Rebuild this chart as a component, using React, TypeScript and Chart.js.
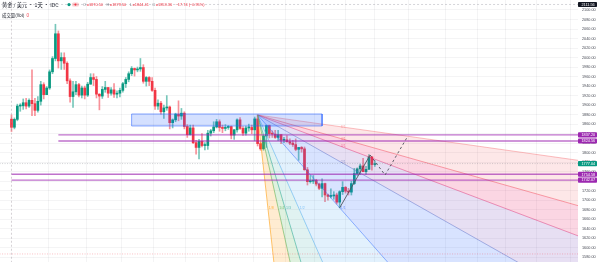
import React, { useEffect, useRef } from 'react';
import { Chart, registerables } from 'chart.js';

Chart.register(...registerables);

// ---- candle data (daily) ----
const opens = [
  1870.5, 1853.4, 1870, 1898, 1898.5, 1905, 1898, 1910, 1903, 1889,
  1908, 1943, 1922, 1936, 1970, 1998, 2050, 1993, 2000, 1988,
  1951, 1918, 1928, 1943, 1921, 1936, 1921, 1944, 1958, 1954,
  1923, 1919, 1933, 1937, 1925, 1932, 1923, 1925, 1931, 1945,
  1954, 1966, 1977, 1974, 1976, 1979, 1950, 1958, 1950, 1931,
  1898, 1904, 1886, 1894, 1896, 1863, 1869, 1881, 1877, 1883,
  1855, 1838, 1852, 1821, 1811, 1824, 1815, 1815, 1841, 1846,
  1854, 1865, 1853, 1851, 1853, 1855, 1837, 1848, 1869, 1851,
  1841, 1852, 1853, 1848, 1871, 1819, 1808, 1835, 1857, 1840,
  1839, 1832, 1838, 1826, 1827, 1823, 1820, 1817, 1807, 1811,
  1808, 1764, 1739, 1740, 1742, 1734, 1725, 1735, 1711, 1708,
  1709, 1711, 1696, 1718, 1727, 1719, 1717, 1735, 1756, 1766,
  1772, 1760, 1765, 1791, 1775,
];
const highs = [
  1879.5, 1873, 1902, 1903, 1913, 1914, 1913, 1974, 1914, 1918,
  1950, 1947, 1939, 1974, 2002, 2070, 2056, 2010, 2010, 1991,
  1955, 1950, 1950, 1946, 1940, 1940, 1948, 1966, 1966, 1960,
  1924, 1939, 1950, 1937, 1937, 1945, 1930, 1936, 1948, 1958,
  1970, 1981, 1978, 1980, 1998, 1985, 1960, 1960, 1958, 1936,
  1911, 1908, 1900, 1920, 1898, 1871, 1883, 1909, 1893, 1886,
  1859, 1858, 1858, 1826, 1828, 1840, 1821, 1847, 1849, 1865,
  1870, 1869, 1858, 1859, 1857, 1856, 1849, 1871, 1874, 1855,
  1856, 1860, 1858, 1875, 1879, 1822, 1836, 1858, 1858, 1846,
  1847, 1847, 1838, 1832, 1836, 1829, 1826, 1829, 1811, 1813,
  1812, 1769, 1752, 1752, 1744, 1736, 1745, 1736, 1713, 1724,
  1718, 1715, 1720, 1739, 1729, 1725, 1740, 1767, 1768, 1776,
  1788, 1771, 1796, 1792, 1783,
];
const lows = [
  1844.41, 1850, 1867, 1887, 1891, 1892, 1895, 1878, 1878, 1885,
  1900, 1913, 1922, 1933, 1966, 1993, 1978, 1975, 1975, 1945,
  1906, 1895, 1922, 1917, 1915, 1913, 1918, 1944, 1941, 1915,
  1890, 1914, 1927, 1916, 1921, 1916, 1915, 1917, 1927, 1937,
  1949, 1962, 1961, 1970, 1971, 1946, 1940, 1941, 1929, 1891,
  1891, 1881, 1872, 1889, 1850, 1852, 1865, 1867, 1870, 1850,
  1832, 1837, 1819, 1797, 1787, 1812, 1806, 1807, 1835, 1842,
  1852, 1845, 1842, 1846, 1849, 1829, 1828, 1843, 1849, 1836,
  1837, 1845, 1840, 1825, 1814, 1805, 1805, 1811, 1831, 1832,
  1830, 1825, 1819, 1821, 1822, 1817, 1813, 1804, 1784, 1801,
  1763, 1732, 1736, 1735, 1730, 1722, 1707, 1697, 1700, 1705,
  1702, 1692, 1684, 1712, 1715, 1711, 1711, 1733, 1752, 1754,
  1760, 1754, 1764, 1763, 1771,
];
const closes = [
  1853.36, 1870, 1898, 1898.5, 1905, 1898, 1910, 1903, 1889, 1908,
  1943, 1922, 1936, 1970, 1998, 2050, 1993, 2000, 1988, 1951,
  1918, 1928, 1943, 1921, 1936, 1921, 1944, 1958, 1954, 1923,
  1919, 1933, 1937, 1925, 1932, 1923, 1925, 1931, 1945, 1954,
  1966, 1977, 1974, 1976, 1979, 1950, 1958, 1950, 1931, 1898,
  1904, 1886, 1894, 1896, 1863, 1869, 1881, 1877, 1883, 1855,
  1838, 1852, 1821, 1811, 1824, 1815, 1815, 1841, 1846, 1854,
  1865, 1853, 1851, 1853, 1855, 1837, 1848, 1869, 1851, 1841,
  1852, 1853, 1848, 1871, 1819, 1808, 1835, 1857, 1840, 1839,
  1832, 1838, 1826, 1827, 1823, 1820, 1817, 1807, 1811, 1808,
  1764, 1739, 1740, 1742, 1734, 1725, 1735, 1711, 1708, 1709,
  1711, 1696, 1718, 1727, 1719, 1717, 1735, 1756, 1766, 1772,
  1760, 1765, 1791, 1775, 1777.04,
];

// ---- axes ----
const yTickValues = [
  1580, 1600, 1620, 1640, 1660, 1680, 1700, 1720, 1740, 1760, 1780, 1800, 1820, 1840,
  1860, 1880, 1900, 1920, 1940, 1960, 1980, 2000, 2020, 2040, 2060, 2080, 2100,
];
const xGridIdx = [19, 32, 43, 54, 65, 76, 89, 98, 109, 119, 129, 142, 154, 164, 173.5, 185];
const Y_MIN = 1570.1;
const Y_MAX = 2121.0;
const X_MIN = -3.92;
const X_MAX = 193.34;

// ---- drawings ----
const boxIdx = [41, 106];
const boxPrice = [1856.1, 1881.3];

const fanAnchorIdx = [84, 112];
const fanAnchorPrice = [1879.2, 1684.0];
const fanLabels = ['1/8', '1/4', '1/3', '1/2', '1/1', '2/1', '3/1', '4/1', '8/1'];
const fanRatios = [8, 4, 3, 2, 1, 1 / 2, 1 / 3, 1 / 4, 1 / 8];
const fanLineColors = [
  'rgba(255,152,0,0.7)',
  'rgba(76,175,80,0.7)',
  'rgba(38,166,154,0.7)',
  'rgba(100,181,246,0.75)',
  'rgba(41,98,255,0.6)',
  'rgba(92,107,192,0.6)',
  'rgba(233,30,99,0.55)',
  'rgba(242,54,69,0.55)',
  'rgba(247,124,128,0.6)',
];
const fanFillColors = [
  'rgba(255,152,0,0.18)',
  'rgba(76,175,80,0.18)',
  'rgba(38,166,154,0.14)',
  'rgba(33,150,243,0.13)',
  'rgba(41,98,255,0.18)',
  'rgba(103,58,183,0.16)',
  'rgba(233,30,99,0.18)',
  'rgba(242,54,69,0.12)',
];

const levelPrices = [1837.2, 1824.56, 1754.58, 1742.07];
const levelStartIdx = [16, 16, 0, 0];

const trendIdx = [112, 122.4];
const trendPrice = [1684, 1795];
const projIdx = [122.4, 127.5, 134.9];
const projPrice = [1795, 1753, 1831];

const crossIdx = 0;
const crossPrice = 2111.56;
const dottedPrice = 1587;

const headerTitle = '黄金 / 美元 · 1天 · IDC';
const headerLabels = ['O', 'H', 'L', 'C'];
const headerValues = ['1870.50', '1879.50', '1844.41', '1853.36'];
const headerChange = '−17.74 (−0.95%)';
const volTitle = '成交量(Vol)';

const UP = '#089981';
const DOWN = '#f23645';

export default function App() {
  const ref = useRef<HTMLCanvasElement | null>(null);

  useEffect(() => {
    const canvas = ref.current;
    if (!canvas) return;
    Chart.defaults.font.family = '"Liberation Sans", Arial, sans-serif';

    const n = opens.length;
    const isUp = opens.map((o, i) => closes[i] >= o);

    const datasets: any[] = [];

    // fan lines
    const slope1 = (fanAnchorPrice[1] - fanAnchorPrice[0]) / (fanAnchorIdx[1] - fanAnchorIdx[0]);
    const fanStart = datasets.length;
    const endIdx = X_MAX + 5;
    fanRatios.forEach((r, k) => {
      datasets.push({
        type: 'line',
        data: [
          { x: fanAnchorIdx[0], y: fanAnchorPrice[0] },
          { x: endIdx, y: fanAnchorPrice[0] + slope1 * r * (endIdx - fanAnchorIdx[0]) },
        ],
        borderColor: fanLineColors[k],
        borderWidth: 0.8,
        backgroundColor: k < fanRatios.length - 1 ? fanFillColors[k] : 'transparent',
        fill: k < fanRatios.length - 1 ? fanStart + k + 1 : false,
        pointRadius: 0,
        order: 10,
      });
    });

    // box
    datasets.push({
      type: 'line',
      data: [
        { x: boxIdx[0], y: boxPrice[1] },
        { x: boxIdx[1], y: boxPrice[1] },
        { x: boxIdx[1], y: boxPrice[0] },
        { x: boxIdx[0], y: boxPrice[0] },
        { x: boxIdx[0], y: boxPrice[1] },
      ],
      borderColor: 'rgba(41,98,255,0.55)',
      borderWidth: 1,
      backgroundColor: 'rgba(41,98,255,0.2)',
      fill: 'shape',
      pointRadius: 0,
      order: 9,
    });

    // horizontal levels
    levelPrices.forEach((p, k) => {
      datasets.push({
        type: 'line',
        data: [
          { x: levelStartIdx[k], y: p },
          { x: X_MAX + 2, y: p },
        ],
        borderColor: 'rgba(156,39,176,0.65)',
        borderWidth: 1.3,
        pointRadius: 0,
        fill: false,
        order: 5,
      });
    });

    // current price line
    datasets.push({
      type: 'line',
      data: [
        { x: X_MIN - 1, y: closes[n - 1] },
        { x: X_MAX + 1, y: closes[n - 1] },
      ],
      borderColor: 'rgba(120,123,134,0.35)',
      borderWidth: 1,
      borderDash: [1, 1.5],
      pointRadius: 0,
      fill: false,
      order: 6,
    });

    // bottom dotted line
    datasets.push({
      type: 'line',
      data: [
        { x: X_MIN - 1, y: dottedPrice },
        { x: X_MAX + 1, y: dottedPrice },
      ],
      borderColor: 'rgba(242,54,69,0.4)',
      borderWidth: 0.8,
      borderDash: [1, 1.5],
      pointRadius: 0,
      fill: false,
      order: 6,
    });

    // trend line
    datasets.push({
      type: 'line',
      data: trendIdx.map((x, i) => ({ x, y: trendPrice[i] })),
      borderColor: '#50535e',
      borderWidth: 0.9,
      pointRadius: 0,
      fill: false,
      order: 4,
    });
    // projection (dashed)
    datasets.push({
      type: 'line',
      data: projIdx.map((x, i) => ({ x, y: projPrice[i] })),
      borderColor: '#50535e',
      borderWidth: 0.9,
      borderDash: [2.5, 2.5],
      pointRadius: 0,
      fill: false,
      order: 4,
    });

    // crosshair
    datasets.push({
      type: 'line',
      data: [
        { x: crossIdx, y: Y_MIN - 10 },
        { x: crossIdx, y: Y_MAX + 10 },
      ],
      borderColor: 'rgba(150,140,150,0.5)',
      borderWidth: 0.8,
      borderDash: [2, 2],
      pointRadius: 0,
      fill: false,
      order: 3,
    });
    datasets.push({
      type: 'line',
      data: [
        { x: X_MIN - 1, y: crossPrice },
        { x: X_MAX + 1, y: crossPrice },
      ],
      borderColor: 'rgba(150,150,160,0.5)',
      borderWidth: 0.8,
      borderDash: [2, 2],
      pointRadius: 0,
      fill: false,
      order: 3,
    });

    // candle wicks
    datasets.push({
      type: 'bar',
      data: opens.map((_, i) => ({ x: i, y: [lows[i], highs[i]] })),
      backgroundColor: isUp.map((u) => (u ? 'rgba(8,153,129,0.55)' : 'rgba(242,54,69,0.55)')),
      barThickness: 1,
      grouped: false,
      borderWidth: 0,
      order: 21,
    });
    // candle bodies
    datasets.push({
      type: 'bar',
      data: opens.map((o, i) => ({ x: i, y: [o, closes[i]] })),
      backgroundColor: isUp.map((u) => (u ? UP : DOWN)),
      barThickness: 2,
      minBarLength: 1,
      grouped: false,
      borderWidth: 0,
      order: 20,
    });

    const overlay = {
      id: 'overlay',
      afterDatasetsDraw(chart: any) {
        const { ctx, scales } = chart;
        const xs = scales.x;
        const ys = scales.y;
        ctx.save();
        ctx.font = '3.6px "Liberation Sans", Arial, sans-serif';
        ctx.textBaseline = 'middle';
        ctx.textAlign = 'left';
        fanRatios.forEach((r, k) => {
          let ix: number;
          let py: number;
          if (r > 1) {
            py = fanAnchorPrice[1];
            ix = fanAnchorIdx[0] + (fanAnchorPrice[1] - fanAnchorPrice[0]) / (slope1 * r);
          } else {
            ix = fanAnchorIdx[1];
            py = fanAnchorPrice[0] + slope1 * r * (fanAnchorIdx[1] - fanAnchorIdx[0]);
          }
          ctx.fillStyle = fanLineColors[k];
          ctx.fillText(fanLabels[k], xs.getPixelForValue(ix) + 1, ys.getPixelForValue(py) + 0.5);
        });
        ctx.restore();
      },
      afterDraw(chart: any) {
        const { ctx, chartArea, scales } = chart;
        const ys = scales.y;
        ctx.save();
        const tag = (price: number, text: string, bg: string) => {
          const py = ys.getPixelForValue(price);
          ctx.fillStyle = bg;
          ctx.beginPath();
          (ctx as any).roundRect(chartArea.right, py - 2.6, 19, 5.2, 0.8);
          ctx.fill();
          ctx.fillStyle = '#ffffff';
          ctx.font = '3.8px "Liberation Sans", Arial, sans-serif';
          ctx.textBaseline = 'middle';
          ctx.textAlign = 'left';
          ctx.fillText(text, chartArea.right + 3.5, py + 0.2);
        };
        levelPrices.forEach((p) => tag(p, p.toFixed(2), '#9c27b0'));
        tag(closes[closes.length - 1], closes[closes.length - 1].toFixed(2), UP);
        tag(crossPrice, crossPrice.toFixed(2), '#131722');

        // header
        ctx.textBaseline = 'middle';
        ctx.textAlign = 'left';
        ctx.font = '5.2px "Noto Sans CJK SC", sans-serif';
        ctx.fillStyle = '#131722';
        ctx.fillText(headerTitle, 2, 4.6);
        ctx.fillStyle = UP;
        ctx.beginPath();
        ctx.arc(69, 4.6, 1.6, 0, Math.PI * 2);
        ctx.fill();
        ctx.fillStyle = 'rgba(242,54,69,0.25)';
        ctx.beginPath();
        (ctx as any).roundRect(72, 2.6, 7, 4, 1.5);
        ctx.fill();
        ctx.fillStyle = DOWN;
        ctx.beginPath();
        ctx.arc(75.5, 4.6, 1.1, 0, Math.PI * 2);
        ctx.fill();

        ctx.font = '3.9px "Liberation Sans", Arial, sans-serif';
        let x = 83;
        headerLabels.forEach((lab, i) => {
          ctx.fillStyle = '#787b86';
          ctx.fillText(lab, x, 4.6);
          x += ctx.measureText(lab).width + 0.6;
          ctx.fillStyle = DOWN;
          const v = '=' + headerValues[i];
          ctx.fillText(v, x, 4.6);
          x += ctx.measureText(v).width + 3.5;
        });
        ctx.fillStyle = DOWN;
        ctx.fillText(headerChange, x, 4.6);

        ctx.font = '4.4px "Noto Sans CJK SC", sans-serif';
        ctx.fillStyle = '#131722';
        ctx.fillText(volTitle, 2, 15);
        ctx.fillStyle = DOWN;
        ctx.fillText('0', 2 + ctx.measureText(volTitle).width + 2, 15);
        ctx.restore();
      },
    };

    const chart = new Chart(canvas, {
      type: 'bar',
      data: { datasets },
      options: {
        responsive: false,
        animation: false,
        events: [],
        layout: { padding: 0 },
        plugins: { legend: { display: false }, tooltip: { enabled: false } },
        scales: {
          x: {
            type: 'linear',
            min: X_MIN,
            max: X_MAX,
            offset: false,
            grid: { color: 'rgba(42,46,57,0.05)', drawTicks: false, lineWidth: 1 },
            border: { display: false },
            ticks: { display: false },
            afterBuildTicks: (s: any) => {
              s.ticks = xGridIdx.map((v) => ({ value: v }));
            },
            afterFit: (s: any) => {
              s.height = 0;
              s.paddingLeft = 0;
              s.paddingRight = 0;
            },
          },
          y: {
            type: 'linear',
            position: 'right',
            min: Y_MIN,
            max: Y_MAX,
            grid: { color: 'rgba(42,46,57,0.05)', drawTicks: false, lineWidth: 1 },
            border: { display: false },
            ticks: {
              autoSkip: false,
              padding: 4,
              color: '#4a4d57',
              font: { size: 3.8 },
              callback: (v: any) => Number(v).toFixed(2),
            },
            afterBuildTicks: (s: any) => {
              s.ticks = yTickValues.map((v) => ({ value: v }));
            },
            afterFit: (s: any) => {
              s.width = 22;
              s.paddingTop = 0;
              s.paddingBottom = 0;
            },
          },
        },
      } as any,
      plugins: [overlay],
    });

    return () => chart.destroy();
  }, []);

  return (
    <div style={{ position: 'fixed', left: 0, top: 0, width: 600, height: 262, background: '#ffffff' }}>
      <canvas ref={ref} width={600} height={262} style={{ display: 'block', width: 600, height: 262 }} />
    </div>
  );
}
